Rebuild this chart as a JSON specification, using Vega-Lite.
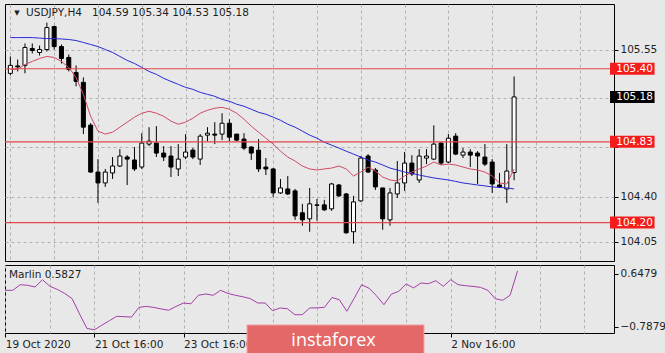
{
  "$schema": "https://vega.github.io/schema/vega-lite/v6.json",
  "background": "#e8e8e8",
  "padding": {"left": 3, "top": 3, "right": 0, "bottom": 0},
  "spacing": 2,
  "resolve": {"scale": {"x": "independent", "y": "independent"}},
  "config": {
    "view": {"stroke": "#000000", "strokeWidth": 1},
    "axis": {"labelFont": "DejaVu Sans", "labelFontSize": 10.5, "labelColor": "#1e1e1e", "tickColor": "#000000", "domain": false, "gridColor": "#b0b0b0", "gridDash": [3, 3], "title": null, "labelOverlap": false, "labelFlush": false, "labelBound": false},
    "text": {"font": "DejaVu Sans"}
  },
  "datasets": {
    "bars": [
      {"i":0,"o":105.364,"h":105.496,"l":105.348,"c":105.426,"f":105.395,"s":105.643,"m":0.195},
      {"i":1,"o":105.422,"h":105.472,"l":105.379,"c":105.414,"f":105.395,"s":105.643,"m":0.195},
      {"i":2,"o":105.426,"h":105.597,"l":105.364,"c":105.566,"f":105.434,"s":105.643,"m":0.347},
      {"i":3,"o":105.558,"h":105.597,"l":105.519,"c":105.542,"f":105.457,"s":105.643,"m":0.331},
      {"i":4,"o":105.527,"h":105.581,"l":105.503,"c":105.55,"f":105.480,"s":105.639,"m":0.285},
      {"i":5,"o":105.55,"h":105.760,"l":105.534,"c":105.721,"f":105.496,"s":105.635,"m":0.482},
      {"i":6,"o":105.729,"h":105.736,"l":105.55,"c":105.573,"f":105.488,"s":105.635,"m":0.304},
      {"i":7,"o":105.573,"h":105.589,"l":105.441,"c":105.480,"f":105.457,"s":105.632,"m":0.22},
      {"i":8,"o":105.488,"h":105.511,"l":105.379,"c":105.395,"f":105.410,"s":105.628,"m":0.11},
      {"i":9,"o":105.371,"h":105.426,"l":105.263,"c":105.301,"f":105.332,"s":105.620,"m":-0.033},
      {"i":10,"o":105.294,"h":105.332,"l":104.890,"c":104.944,"f":105.200,"s":105.605,"m":-0.45},
      {"i":11,"o":104.960,"h":104.975,"l":104.587,"c":104.594,"f":105.029,"s":105.589,"m":-0.84},
      {"i":12,"o":104.594,"h":104.695,"l":104.353,"c":104.509,"f":104.913,"s":105.573,"m":-0.873},
      {"i":13,"o":104.509,"h":104.618,"l":104.478,"c":104.594,"f":104.890,"s":105.550,"m":-0.75},
      {"i":14,"o":104.587,"h":104.711,"l":104.540,"c":104.641,"f":104.905,"s":105.527,"m":-0.63},
      {"i":15,"o":104.641,"h":104.773,"l":104.633,"c":104.719,"f":104.944,"s":105.496,"m":-0.51},
      {"i":16,"o":104.711,"h":104.726,"l":104.493,"c":104.695,"f":104.983,"s":105.465,"m":-0.52},
      {"i":17,"o":104.688,"h":104.789,"l":104.602,"c":104.618,"f":105.022,"s":105.441,"m":-0.53},
      {"i":18,"o":104.633,"h":104.897,"l":104.618,"c":104.820,"f":105.053,"s":105.410,"m":-0.266},
      {"i":19,"o":104.812,"h":104.944,"l":104.796,"c":104.835,"f":105.068,"s":105.379,"m":-0.24},
      {"i":20,"o":104.820,"h":104.952,"l":104.711,"c":104.742,"f":105.053,"s":105.356,"m":-0.27},
      {"i":21,"o":104.742,"h":104.796,"l":104.680,"c":104.711,"f":105.029,"s":105.325,"m":-0.31},
      {"i":22,"o":104.719,"h":104.796,"l":104.555,"c":104.633,"f":104.991,"s":105.301,"m":-0.345},
      {"i":23,"o":104.618,"h":104.812,"l":104.563,"c":104.695,"f":104.967,"s":105.278,"m":-0.24},
      {"i":24,"o":104.711,"h":104.890,"l":104.695,"c":104.750,"f":104.983,"s":105.255,"m":-0.15},
      {"i":25,"o":104.765,"h":104.781,"l":104.695,"c":104.711,"f":105.014,"s":105.239,"m":-0.17},
      {"i":26,"o":104.695,"h":104.890,"l":104.649,"c":104.874,"f":105.053,"s":105.216,"m":0.06},
      {"i":27,"o":104.882,"h":104.944,"l":104.835,"c":104.897,"f":105.076,"s":105.200,"m":0.095},
      {"i":28,"o":104.890,"h":104.983,"l":104.812,"c":104.882,"f":105.092,"s":105.185,"m":0.06},
      {"i":29,"o":104.890,"h":105.053,"l":104.843,"c":104.975,"f":105.099,"s":105.161,"m":0.195},
      {"i":30,"o":104.975,"h":105.006,"l":104.835,"c":104.866,"f":105.084,"s":105.146,"m":0.11},
      {"i":31,"o":104.890,"h":104.890,"l":104.835,"c":104.843,"f":105.053,"s":105.123,"m":0.06},
      {"i":32,"o":104.851,"h":104.897,"l":104.765,"c":104.781,"f":105.006,"s":105.107,"m":0.02},
      {"i":33,"o":104.789,"h":104.796,"l":104.688,"c":104.742,"f":104.952,"s":105.084,"m":-0.03},
      {"i":34,"o":104.765,"h":104.851,"l":104.594,"c":104.618,"f":104.905,"s":105.060,"m":-0.149},
      {"i":35,"o":104.633,"h":104.703,"l":104.571,"c":104.618,"f":104.858,"s":105.045,"m":-0.149},
      {"i":36,"o":104.618,"h":104.625,"l":104.400,"c":104.431,"f":104.812,"s":105.022,"m":-0.358},
      {"i":37,"o":104.431,"h":104.540,"l":104.423,"c":104.470,"f":104.757,"s":104.998,"m":-0.285},
      {"i":38,"o":104.462,"h":104.563,"l":104.416,"c":104.423,"f":104.711,"s":104.967,"m":-0.304},
      {"i":39,"o":104.447,"h":104.462,"l":104.221,"c":104.252,"f":104.680,"s":104.944,"m":-0.466},
      {"i":40,"o":104.276,"h":104.346,"l":104.175,"c":104.221,"f":104.641,"s":104.913,"m":-0.466},
      {"i":41,"o":104.229,"h":104.470,"l":104.128,"c":104.346,"f":104.618,"s":104.882,"m":-0.285},
      {"i":42,"o":104.334,"h":104.384,"l":104.214,"c":104.338,"f":104.610,"s":104.858,"m":-0.28},
      {"i":43,"o":104.338,"h":104.377,"l":104.291,"c":104.299,"f":104.618,"s":104.827,"m":-0.266},
      {"i":44,"o":104.307,"h":104.509,"l":104.291,"c":104.501,"f":104.625,"s":104.804,"m":0.0},
      {"i":45,"o":104.493,"h":104.501,"l":104.400,"c":104.408,"f":104.641,"s":104.781,"m":-0.06},
      {"i":46,"o":104.423,"h":104.431,"l":104.113,"c":104.120,"f":104.618,"s":104.757,"m":-0.374},
      {"i":47,"o":104.128,"h":104.408,"l":104.035,"c":104.361,"f":104.563,"s":104.734,"m":-0.02},
      {"i":48,"o":104.369,"h":104.719,"l":104.361,"c":104.703,"f":104.594,"s":104.711,"m":0.347},
      {"i":49,"o":104.719,"h":104.734,"l":104.587,"c":104.594,"f":104.633,"s":104.688,"m":0.25},
      {"i":50,"o":104.610,"h":104.625,"l":104.454,"c":104.478,"f":104.602,"s":104.672,"m":0.05},
      {"i":51,"o":104.470,"h":104.470,"l":104.144,"c":104.229,"f":104.555,"s":104.649,"m":-0.195},
      {"i":52,"o":104.221,"h":104.470,"l":104.175,"c":104.431,"f":104.532,"s":104.625,"m":0.09},
      {"i":53,"o":104.423,"h":104.680,"l":104.392,"c":104.509,"f":104.524,"s":104.610,"m":0.168},
      {"i":54,"o":104.509,"h":104.750,"l":104.447,"c":104.664,"f":104.563,"s":104.594,"m":0.366},
      {"i":55,"o":104.664,"h":104.726,"l":104.563,"c":104.579,"f":104.594,"s":104.583,"m":0.26},
      {"i":56,"o":104.532,"h":104.773,"l":104.509,"c":104.719,"f":104.618,"s":104.571,"m":0.393},
      {"i":57,"o":104.703,"h":104.773,"l":104.656,"c":104.719,"f":104.641,"s":104.559,"m":0.374},
      {"i":58,"o":104.695,"h":104.959,"l":104.688,"c":104.812,"f":104.672,"s":104.548,"m":0.455},
      {"i":59,"o":104.820,"h":104.827,"l":104.649,"c":104.664,"f":104.649,"s":104.540,"m":0.304},
      {"i":60,"o":104.672,"h":104.890,"l":104.664,"c":104.858,"f":104.656,"s":104.532,"m":0.482},
      {"i":61,"o":104.874,"h":104.897,"l":104.726,"c":104.734,"f":104.649,"s":104.521,"m":0.347},
      {"i":62,"o":104.726,"h":104.781,"l":104.703,"c":104.750,"f":104.633,"s":104.509,"m":0.32},
      {"i":63,"o":104.750,"h":104.773,"l":104.633,"c":104.726,"f":104.618,"s":104.501,"m":0.30},
      {"i":64,"o":104.742,"h":104.757,"l":104.501,"c":104.719,"f":104.610,"s":104.493,"m":0.276},
      {"i":65,"o":104.711,"h":104.812,"l":104.641,"c":104.656,"f":104.594,"s":104.486,"m":0.195},
      {"i":66,"o":104.672,"h":104.695,"l":104.431,"c":104.501,"f":104.563,"s":104.478,"m":-0.033},
      {"i":67,"o":104.493,"h":104.587,"l":104.470,"c":104.478,"f":104.509,"s":104.474,"m":-0.076},
      {"i":68,"o":104.462,"h":104.812,"l":104.353,"c":104.602,"f":104.501,"s":104.470,"m":0.06},
      {"i":69,"o":104.59,"h":105.34,"l":104.53,"c":105.18,"f":104.618,"s":104.462,"m":0.72}
    ],
    "levels": [
      {"p": 105.40, "label": "105.40", "kind": "level"},
      {"p": 104.83, "label": "104.83", "kind": "level"},
      {"p": 104.20, "label": "104.20", "kind": "level"},
      {"p": 105.18, "label": "105.18", "kind": "price"}
    ]
  },
  "vconcat": [
    {
      "width": 609,
      "height": 257,
      "layer": [
        {
          "data": {"name": "bars"},
          "mark": {"type": "rule", "color": "#000000", "strokeWidth": 1, "clip": true},
          "encoding": {
            "x": {"field": "i", "type": "quantitative", "scale": {"domain": [-0.05, 82], "nice": false, "zero": false},
                  "axis": {"orient": "bottom", "values": [0,6,12,18,24,30,36,42,48,54,60,66,72,78], "labels": false, "ticks": false, "grid": true}},
            "y": {"field": "l", "type": "quantitative", "scale": {"domain": [103.90, 105.905], "nice": false, "zero": false},
                  "axis": {"orient": "right", "values": [105.55, 105.17, 104.79, 104.40, 104.05],
                           "labelExpr": "datum.value == 105.17 || datum.value == 104.79 ? '' : format(datum.value, '.2f')",
                           "tickSize": 4, "labelPadding": 2, "grid": true}},
            "y2": {"field": "h"}
          }
        },
        {
          "data": {"name": "bars"},
          "mark": {"type": "bar", "width": 4, "stroke": "#000000", "strokeWidth": 1, "clip": true},
          "encoding": {
            "x": {"field": "i", "type": "quantitative"},
            "y": {"field": "o", "type": "quantitative"},
            "y2": {"field": "c"},
            "fill": {"condition": {"test": "datum.c >= datum.o", "value": "#ffffff"}, "value": "#000000"}
          }
        },
        {
          "data": {"name": "bars"},
          "mark": {"type": "line", "color": "#2a2ad6", "strokeWidth": 1, "clip": true},
          "encoding": {
            "x": {"field": "i", "type": "quantitative"},
            "y": {"field": "s", "type": "quantitative"}
          }
        },
        {
          "data": {"name": "bars"},
          "mark": {"type": "line", "color": "#d24a62", "strokeWidth": 1, "clip": true},
          "encoding": {
            "x": {"field": "i", "type": "quantitative"},
            "y": {"field": "f", "type": "quantitative"}
          }
        },
        {
          "data": {"name": "levels"},
          "transform": [{"filter": "datum.kind == 'level'"}],
          "mark": {"type": "rule", "color": "#e0474c", "strokeWidth": 1.2},
          "encoding": {
            "y": {"field": "p", "type": "quantitative"}
          }
        },
        {
          "data": {"name": "levels"},
          "mark": {"type": "rect", "yOffset": -6, "y2Offset": 6},
          "encoding": {
            "x": {"datum": 82.14, "type": "quantitative"},
            "x2": {"datum": 88.24},
            "y": {"field": "p", "type": "quantitative"},
            "y2": {"field": "p"},
            "fill": {"condition": {"test": "datum.kind == 'price'", "value": "#000000"}, "value": "#f51c1c"}
          }
        },
        {
          "data": {"name": "levels"},
          "mark": {"type": "text", "align": "left", "baseline": "middle", "fontSize": 10.5, "color": "#ffffff"},
          "encoding": {
            "x": {"datum": 82.99, "type": "quantitative"},
            "y": {"field": "p", "type": "quantitative"},
            "text": {"field": "label"}
          }
        },
        {
          "data": {"values": [{}]},
          "mark": {"type": "text", "align": "center", "baseline": "middle", "fontSize": 7, "color": "#1e1e1e", "text": "▼"},
          "encoding": {
            "x": {"datum": 0.893, "type": "quantitative"},
            "y": {"datum": 105.835, "type": "quantitative"}
          }
        },
        {
          "data": {"values": [{}]},
          "mark": {"type": "text", "align": "left", "baseline": "middle", "fontSize": 10.5, "color": "#1e1e1e", "text": "USDJPY,H4\u00a0\u00a0\u00a0104.59 105.34 104.53 105.18"},
          "encoding": {
            "x": {"datum": 2.146, "type": "quantitative"},
            "y": {"datum": 105.835, "type": "quantitative"}
          }
        }
      ]
    },
    {
      "width": 609,
      "height": 68,
      "layer": [
        {
          "data": {"name": "bars"},
          "mark": {"type": "line", "color": "#a23fa8", "strokeWidth": 1, "clip": true},
          "encoding": {
            "x": {"field": "i", "type": "quantitative", "scale": {"domain": [-0.05, 82], "nice": false, "zero": false},
                  "axis": {"orient": "bottom", "values": [0,6,12,18,24,30,36,42,48,54,60,66,72,78],
                           "labelExpr": "datum.value == 0 ? '19 Oct 2020' : datum.value == 12 ? '21 Oct 16:00' : datum.value == 24 ? '23 Oct 16:00' : datum.value == 60 ? '2 Nov 16:00' : ''",
                           "labelAlign": "left", "labelBaseline": "top", "tickSize": 4, "labelPadding": 2, "grid": true,
                           "tickOpacity": {"condition": {"test": "datum.value % 12 == 0 && datum.value <= 60", "value": 1}, "value": 0}}},
            "y": {"field": "m", "type": "quantitative", "scale": {"domain": [-0.962, 0.881], "nice": false, "zero": false},
                  "axis": {"orient": "right", "values": [0.6479, 0, -0.7879],
                           "labelExpr": "datum.value == 0 ? '0.00' : format(datum.value, '.4f')",
                           "tickSize": 4, "labelPadding": 2, "grid": true,
                           "gridOpacity": {"condition": {"test": "datum.value == 0", "value": 1}, "value": 0}}}
          }
        },
        {
          "data": {"values": [{}]},
          "mark": {"type": "text", "align": "left", "baseline": "middle", "fontSize": 10.5, "color": "#1e1e1e", "text": "Marlin 0.5827"},
          "encoding": {
            "x": {"datum": 0.49, "type": "quantitative"},
            "y": {"datum": 0.597, "type": "quantitative"}
          }
        },
        {
          "data": {"values": [{}]},
          "mark": {"type": "rect", "fill": "#e46868", "stroke": "#f0a4a4", "strokeWidth": 1},
          "encoding": {
            "x": {"datum": 32.56, "type": "quantitative"},
            "x2": {"datum": 56.4},
            "y": {"datum": -0.744, "type": "quantitative"},
            "y2": {"datum": -1.583}
          }
        },
        {
          "data": {"values": [{}]},
          "mark": {"type": "text", "align": "center", "baseline": "alphabetic", "fontSize": 18, "font": "Open Sans", "color": "#ffffff", "text": "instaforex"},
          "encoding": {
            "x": {"datum": 44.21, "type": "quantitative"},
            "y": {"datum": -1.312, "type": "quantitative"}
          }
        }
      ]
    }
  ]
}
